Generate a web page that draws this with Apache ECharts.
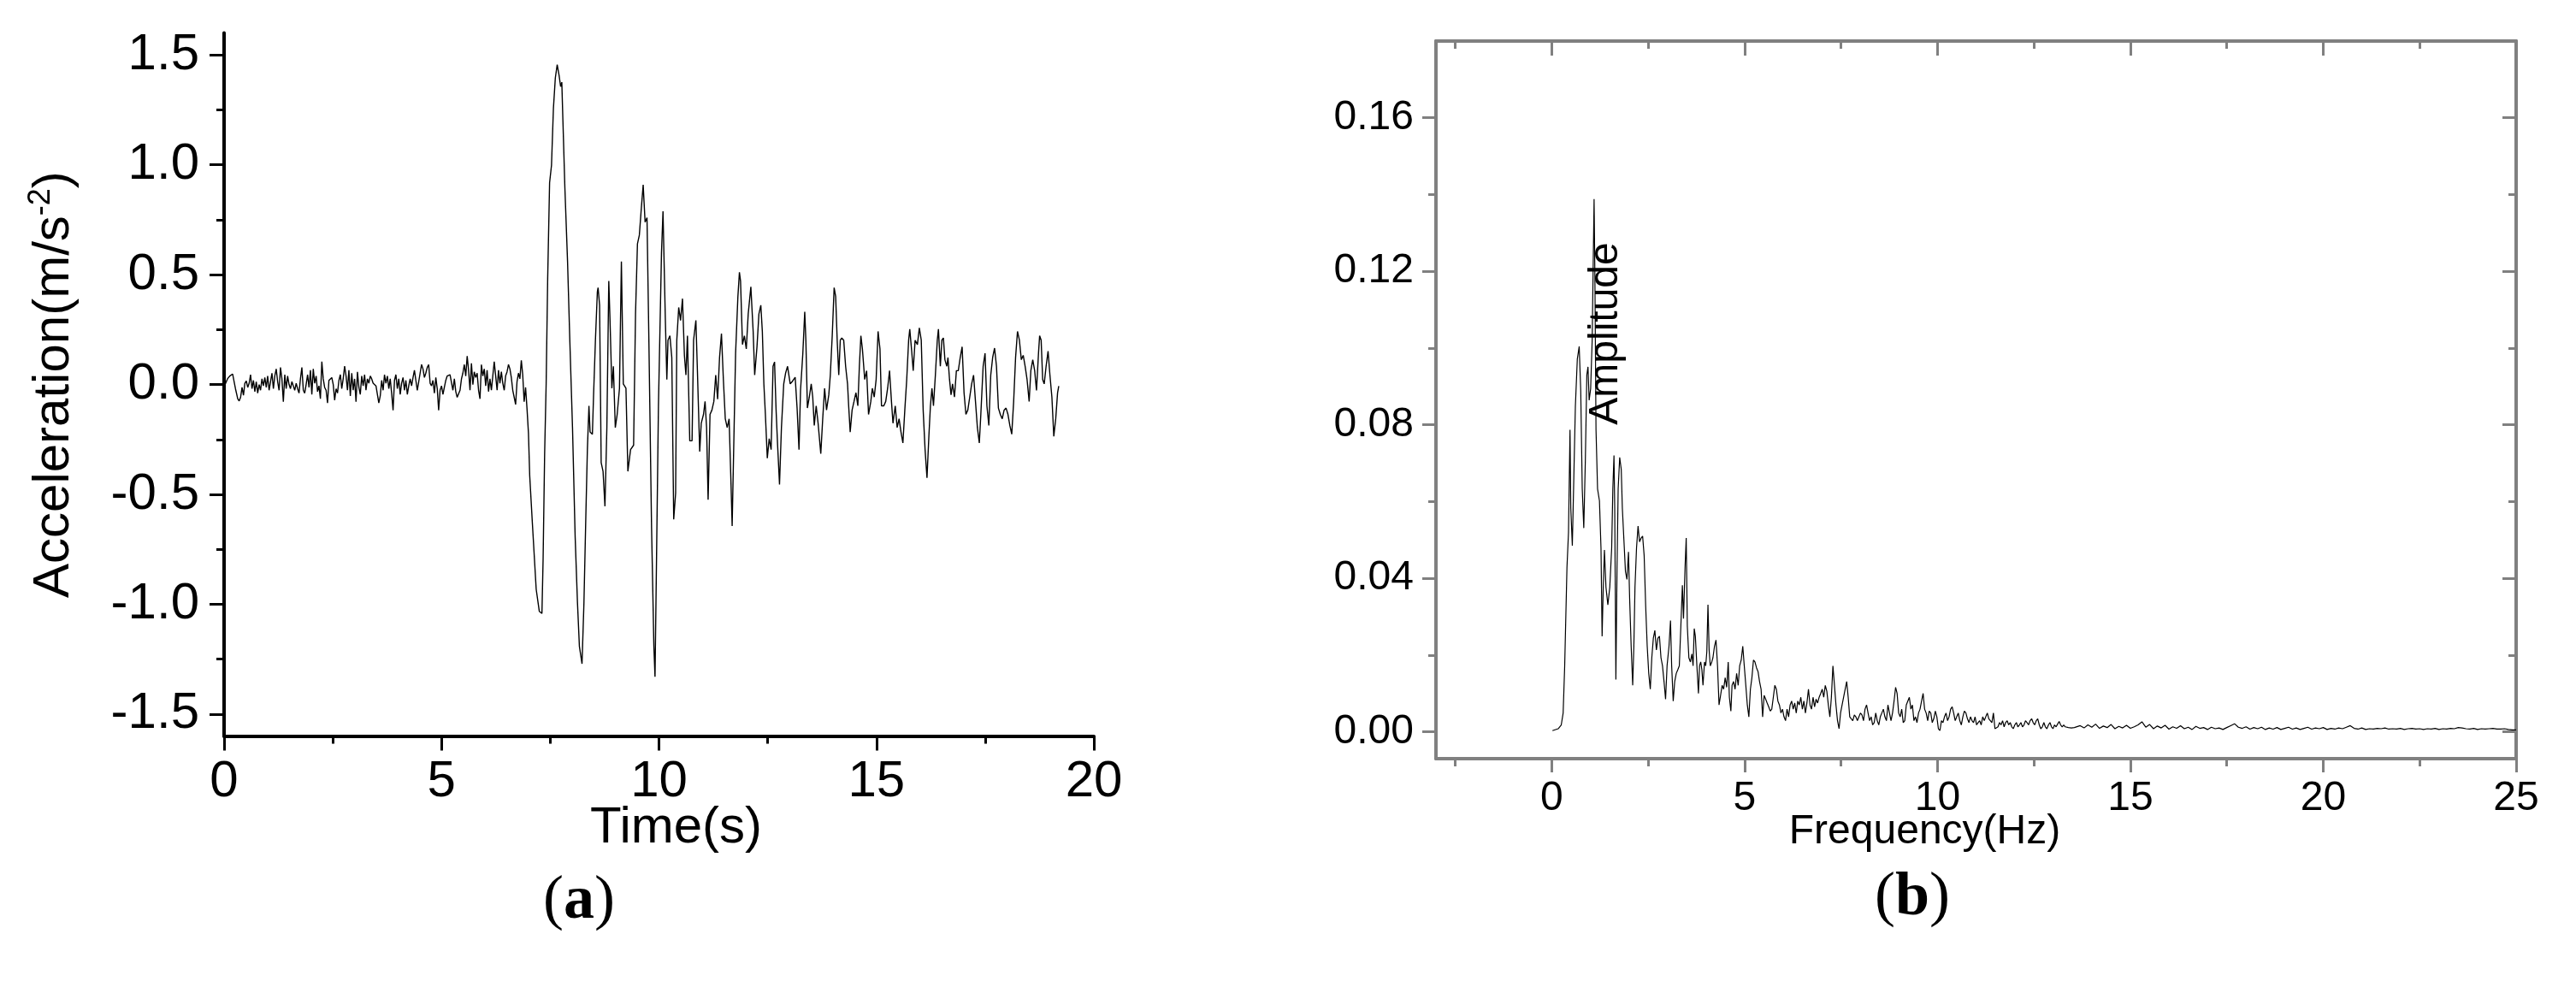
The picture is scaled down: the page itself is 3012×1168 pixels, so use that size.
<!DOCTYPE html>
<html>
<head>
<meta charset="utf-8">
<script src="https://cdn.jsdelivr.net/npm/echarts@6/dist/echarts.min.js"></script>
<style>
html,body{margin:0;padding:0;background:#fff;}
#chart{width:3012px;height:1168px;}
</style>
</head>
<body>
<div id="chart"></div>
<script>
// ---------- Data (a): acceleration time history [time s, acceleration m/s^2] ----------
const accelPreEvent = [
[0.000,-0.010],[0.033,-0.013],[0.079,0.026],[0.131,0.039],[0.197,0.048],[0.229,0.045],[0.262,-0.019],[0.315,-0.065],[0.347,-0.075],[0.380,-0.058],[0.413,-0.013],[0.446,-0.049],
[0.478,0.006],[0.511,0.016],[0.544,-0.013],[0.577,0.006],[0.609,0.045],[0.642,-0.019],[0.675,0.019],[0.708,-0.032],[0.740,0.013],[0.773,-0.039],
[0.806,0.000],[0.839,-0.026],[0.871,0.026],[0.904,-0.006],[0.937,0.032],[0.970,-0.013],[1.002,0.039],[1.035,-0.026],[1.068,0.013],[1.101,0.052],
[1.134,-0.019],[1.166,0.039],[1.199,0.071],[1.232,0.013],[1.265,-0.026],[1.297,0.078],[1.330,0.026],[1.363,-0.078],[1.396,0.045],[1.428,-0.019],
[1.461,0.039],[1.494,0.000],[1.527,-0.019],[1.560,0.013],[1.592,-0.006],[1.625,-0.026],[1.658,0.006],[1.691,-0.019],[1.723,-0.039],[1.756,0.026],
[1.789,0.078],[1.822,-0.026],[1.854,-0.039],[1.887,0.000],[1.920,0.045],[1.953,-0.013],[1.986,0.065],[2.018,-0.045],[2.051,0.071],[2.084,0.006],
[2.117,0.039],[2.149,-0.032],[2.182,-0.006],[2.215,-0.065],[2.248,0.104],[2.280,0.026],[2.313,-0.013],[2.346,-0.026],[2.379,-0.084],[2.411,0.019],
[2.444,0.026],[2.477,0.032],[2.510,0.000],[2.543,-0.071],[2.575,-0.019],[2.608,-0.039],[2.641,0.019],[2.674,0.045],[2.706,-0.019],[2.739,0.026],
[2.772,0.084],[2.805,0.039],[2.837,-0.026],[2.870,0.065],[2.903,-0.052],[2.936,0.052],[2.968,-0.026],[3.001,0.026],[3.034,-0.078],[3.067,0.058],
[3.100,-0.013],[3.132,-0.045],[3.165,0.039],[3.198,-0.006],[3.231,0.045],[3.263,-0.026],[3.296,0.026],[3.329,0.006],[3.362,0.039],[3.394,0.026],
[3.427,0.006],[3.460,0.000],[3.493,-0.006],[3.525,-0.006],[3.558,-0.084],[3.591,-0.052],[3.624,0.019],[3.657,-0.026],[3.689,0.045],[3.722,0.006],
[3.755,0.039],[3.788,-0.019],[3.820,0.026],[3.853,-0.039],[3.886,-0.117],[3.919,0.019],[3.951,0.045],[3.984,-0.019],[4.017,0.026],[4.050,-0.045],
[4.082,0.006],[4.115,0.032],[4.148,-0.026],[4.181,0.019],[4.214,-0.045],[4.246,-0.006],[4.279,0.026],[4.312,-0.006],[4.345,0.032],[4.377,0.065],
[4.410,0.019],[4.443,-0.026],[4.476,0.013],[4.508,0.052],[4.541,0.091],[4.574,0.071],[4.607,0.032],[4.639,0.052],[4.672,0.078],[4.705,0.091],
[4.738,0.006],[4.771,-0.006],[4.803,0.019],[4.836,-0.039],[4.869,0.032],[4.902,-0.019],[4.934,-0.117],[4.967,-0.026],[5.000,-0.006],[5.033,-0.045],
[5.065,-0.013],[5.098,0.019],[5.131,0.039],[5.164,0.042],[5.196,0.045],[5.229,0.039],[5.262,-0.026],[5.295,0.026],[5.328,-0.032],[5.360,-0.058],
[5.393,-0.052],[5.426,-0.026],[5.459,0.026],[5.491,0.052],[5.524,0.091],[5.557,0.039],[5.590,0.130],[5.622,0.065],[5.655,-0.026],[5.688,0.097],
[5.721,0.000],[5.753,0.058],[5.786,0.032],[5.819,0.052],[5.852,-0.026],[5.885,-0.065],[5.917,0.091],[5.950,0.039],[5.983,0.071],[6.016,-0.006],
[6.048,0.065],[6.081,-0.032],[6.114,0.026],[6.147,-0.026],[6.179,0.039],[6.212,0.104],[6.245,0.039],[6.278,-0.026],[6.310,0.065],[6.343,0.006],
[6.376,0.058],[6.409,0.006],[6.442,-0.026],[6.474,0.039],[6.507,0.058],[6.540,0.091],[6.573,0.071],[6.605,0.032],[6.638,-0.026],[6.671,-0.058],
[6.704,-0.091],[6.736,0.013],[6.769,0.052],[6.802,0.026],[6.835,0.110],[6.867,0.045],[6.900,-0.078],[6.933,-0.013],[6.966,-0.110],[6.999,-0.221]
];
const accelStrongMotion = [
[7.028,-0.415],[7.090,-0.634],[7.177,-0.932],[7.248,-1.032],[7.309,-1.042],[7.336,-0.793],[7.371,-0.315],[7.406,0.003],[7.441,0.481],[7.485,0.918],
[7.529,0.998],[7.573,1.257],[7.617,1.396],[7.660,1.456],[7.704,1.406],[7.739,1.356],[7.766,1.376],[7.792,1.197],[7.836,0.899],[7.898,0.560],
[7.950,0.202],[8.012,-0.196],[8.073,-0.694],[8.126,-0.992],[8.170,-1.191],[8.231,-1.271],[8.275,-0.992],[8.319,-0.594],[8.354,-0.296],[8.390,-0.097],
[8.416,-0.216],[8.469,-0.226],[8.495,-0.057],[8.539,0.202],[8.583,0.421],[8.600,0.441],[8.635,0.361],[8.671,-0.355],[8.714,-0.395],[8.758,-0.554],
[8.802,-0.196],[8.846,0.471],[8.873,0.302],[8.917,-0.017],[8.952,0.083],[8.996,-0.196],[9.039,-0.136],[9.092,-0.017],[9.136,0.560],[9.180,0.003],
[9.241,-0.017],[9.285,-0.395],[9.347,-0.296],[9.417,-0.276],[9.461,0.321],[9.505,0.640],[9.549,0.680],[9.593,0.799],[9.637,0.909],[9.681,0.739],
[9.725,0.759],[9.768,0.202],[9.830,-0.654],[9.883,-1.191],[9.909,-1.330],[9.944,-0.793],[9.988,-0.097],[10.058,0.600],[10.093,0.789],[10.146,0.302],
[10.181,0.023],[10.208,0.202],[10.252,0.222],[10.295,0.123],[10.339,-0.614],[10.383,-0.494],[10.410,0.202],[10.454,0.351],[10.497,0.292],[10.541,0.391],
[10.585,0.133],[10.620,0.043],[10.655,0.222],[10.708,-0.256],[10.761,-0.256],[10.796,0.202],[10.849,0.292],[10.884,0.063],[10.937,-0.305],[10.972,-0.176],
[11.024,-0.136],[11.060,-0.077],[11.095,-0.196],[11.130,-0.524],[11.174,-0.136],[11.218,-0.116],[11.262,-0.077],[11.305,0.043],[11.349,-0.067],[11.393,0.123],
[11.437,0.232],[11.481,0.023],[11.525,-0.156],[11.569,-0.196],[11.613,-0.156],[11.657,-0.455],[11.683,-0.644],[11.727,-0.206],[11.762,0.142],[11.815,0.401],
[11.850,0.511],[11.876,0.471],[11.920,0.182],[11.964,0.222],[12.008,0.162],[12.052,0.321],[12.113,0.445],[12.166,0.242],[12.201,0.043],[12.254,0.172],
[12.298,0.321],[12.342,0.361],[12.377,0.242],[12.412,0.003],[12.447,-0.136],[12.491,-0.335],[12.535,-0.246],[12.579,-0.296],[12.623,0.083],[12.658,0.103],
[12.693,-0.116],[12.728,-0.276],[12.772,-0.455],[12.816,-0.196],[12.869,0.003],[12.913,0.053],[12.957,0.083],[13.018,0.003],[13.062,0.013],[13.132,0.033],
[13.176,-0.107],[13.220,-0.296],[13.255,-0.027],[13.308,0.142],[13.352,0.331],[13.378,0.202],[13.413,-0.107],[13.457,-0.057],[13.501,0.003],[13.536,-0.057],
[13.571,-0.186],[13.615,-0.097],[13.659,-0.176],[13.721,-0.315],[13.765,-0.156],[13.809,-0.017],[13.853,-0.116],[13.905,-0.047],[13.940,0.043],[13.984,0.222],
[14.028,0.441],[14.063,0.401],[14.098,0.202],[14.134,0.043],[14.169,0.202],[14.204,0.212],[14.248,0.202],[14.292,0.083],[14.336,0.003],[14.362,-0.097],
[14.397,-0.216],[14.441,-0.116],[14.485,-0.077],[14.529,-0.037],[14.573,-0.097],[14.608,0.083],[14.643,0.222],[14.678,0.162],[14.731,0.023],[14.775,0.063],
[14.819,-0.136],[14.871,-0.077],[14.906,-0.017],[14.950,-0.057],[14.994,0.023],[15.038,0.242],[15.082,0.162],[15.117,-0.097],[15.170,-0.097],[15.214,-0.077],
[15.258,-0.017],[15.302,0.063],[15.346,-0.077],[15.381,-0.176],[15.433,-0.097],[15.477,-0.196],[15.521,-0.156],[15.565,-0.216],[15.609,-0.266],[15.653,-0.116],
[15.697,0.023],[15.741,0.202],[15.767,0.252],[15.811,0.152],[15.846,0.063],[15.890,0.202],[15.943,0.182],[15.987,0.258],[16.031,0.202],[16.075,-0.116],
[16.119,-0.296],[16.163,-0.425],[16.206,-0.236],[16.242,-0.097],[16.277,-0.017],[16.312,-0.097],[16.356,0.043],[16.400,0.202],[16.426,0.252],[16.470,0.083],
[16.505,0.202],[16.540,0.212],[16.575,0.113],[16.619,0.083],[16.645,0.123],[16.681,0.023],[16.716,-0.047],[16.751,0.003],[16.795,-0.057],[16.839,0.063],
[16.883,0.063],[16.927,0.123],[16.971,0.172],[17.015,-0.037],[17.058,-0.136],[17.102,-0.116],[17.146,-0.057],[17.190,0.003],[17.234,0.043],[17.278,-0.077],
[17.322,-0.196],[17.366,-0.266],[17.401,-0.136],[17.454,0.083],[17.498,0.142],[17.541,-0.097],[17.585,-0.186],[17.629,0.043],[17.673,0.123],[17.717,0.166],
[17.761,0.083],[17.805,-0.107],[17.849,-0.136],[17.893,-0.156],[17.937,-0.116],[17.981,-0.107],[18.025,-0.136],[18.068,-0.186],[18.112,-0.226],[18.156,-0.077],
[18.200,0.123],[18.244,0.242],[18.288,0.202],[18.332,0.113],[18.376,0.133],[18.420,0.083],[18.464,0.023],[18.512,-0.077],[18.551,0.063],[18.595,0.113],
[18.639,0.063],[18.681,-0.027],[18.727,0.142],[18.753,0.222],[18.788,0.202],[18.823,0.023],[18.858,0.003],[18.902,0.083],[18.947,0.152],[18.990,0.043],
[19.035,-0.057],[19.079,-0.236],[19.123,-0.156],[19.166,-0.037],[19.193,-0.007]
];

// ---------- Data (b): Fourier amplitude spectrum [frequency Hz, amplitude] ----------
const spectrumLow = [
[0.020,0.0003],[0.168,0.0008],[0.248,0.0018],[0.297,0.0049],[0.337,0.0172],[0.396,0.0428],[0.436,0.0520],[0.475,0.0787],[0.495,0.0582],[0.535,0.0485],
[0.574,0.0664],[0.614,0.0848],[0.664,0.0971],[0.713,0.1004],[0.753,0.0889],[0.792,0.0633],[0.832,0.0531],[0.872,0.0705],[0.911,0.0930],[0.941,0.0951],
[0.971,0.0864],[1.010,0.0894],[1.050,0.1022],[1.080,0.1248],[1.099,0.1388],[1.119,0.1197],[1.149,0.0787],[1.189,0.0633],[1.238,0.0602],[1.278,0.0479],
[1.307,0.0249],[1.337,0.0377],[1.367,0.0474],[1.407,0.0377],[1.456,0.0331],[1.506,0.0377],[1.555,0.0479],[1.585,0.0633],[1.615,0.0720],[1.634,0.0582],
[1.664,0.0136],[1.694,0.0428],[1.723,0.0633],[1.763,0.0715],[1.803,0.0684],[1.832,0.0582],[1.872,0.0500],[1.912,0.0418],[1.951,0.0397],[1.991,0.0469],
[2.021,0.0346],[2.060,0.0223],[2.100,0.0121],[2.130,0.0223],[2.159,0.0377],[2.199,0.0479],[2.239,0.0536],[2.278,0.0495],[2.318,0.0505],[2.357,0.0510],
[2.397,0.0459],[2.437,0.0326],[2.476,0.0223],[2.516,0.0152],[2.556,0.0111],[2.595,0.0193],[2.635,0.0244],[2.674,0.0264],[2.714,0.0213],[2.754,0.0244],
[2.793,0.0249],[2.833,0.0193],[2.872,0.0172],[2.912,0.0131],[2.952,0.0085],[2.991,0.0172],[3.041,0.0223],[3.080,0.0290],[3.110,0.0172],[3.150,0.0080],
[3.189,0.0131],[3.229,0.0152],[3.269,0.0162],[3.308,0.0172],[3.348,0.0275],[3.388,0.0382],[3.417,0.0295],[3.457,0.0428],[3.487,0.0505],[3.516,0.0275],
[3.556,0.0193],[3.596,0.0182],[3.635,0.0203],[3.665,0.0172],[3.695,0.0269],[3.724,0.0249],[3.764,0.0172],[3.804,0.0100],[3.833,0.0172],[3.863,0.0182],
[3.893,0.0162],[3.922,0.0121],[3.962,0.0182],[3.992,0.0172],[4.021,0.0208],[4.051,0.0331],[4.081,0.0213],[4.111,0.0172],[4.150,0.0182],[4.180,0.0193],
[4.220,0.0223],[4.259,0.0239],[4.299,0.0172],[4.338,0.0070],[4.378,0.0095],[4.418,0.0121],[4.457,0.0111],[4.497,0.0141],[4.537,0.0116],[4.576,0.0182],
[4.606,0.0090],[4.645,0.0054],[4.675,0.0121],[4.715,0.0131],[4.754,0.0111],[4.794,0.0152],[4.834,0.0121],[4.873,0.0172],[4.913,0.0187],[4.953,0.0223],
[4.992,0.0172],[5.032,0.0121],[5.071,0.0070],[5.111,0.0039],[5.151,0.0111],[5.190,0.0141],[5.230,0.0187],[5.269,0.0182],[5.309,0.0167],[5.349,0.0157],
[5.388,0.0131],[5.428,0.0111],[5.468,0.0039],[5.507,0.0095],[5.547,0.0085],[5.586,0.0075],[5.626,0.0065],[5.666,0.0054],[5.705,0.0059],[5.745,0.0090],
[5.784,0.0121],[5.824,0.0111],[5.864,0.0080],[5.903,0.0070],[5.943,0.0049],[5.983,0.0059],[6.022,0.0039],[6.062,0.0029],[6.101,0.0059],[6.141,0.0039],
[6.181,0.0070],[6.220,0.0080],[6.260,0.0059],[6.300,0.0075],[6.339,0.0049],[6.379,0.0080],[6.418,0.0070],[6.458,0.0090],[6.498,0.0059],[6.537,0.0080],
[6.577,0.0049],[6.616,0.0075],[6.656,0.0111],[6.696,0.0070],[6.735,0.0059],[6.775,0.0090],[6.815,0.0065],[6.854,0.0085],[6.894,0.0075],[6.933,0.0090],
[6.973,0.0100],[7.013,0.0111],[7.052,0.0090],[7.092,0.0121],[7.132,0.0106],[7.171,0.0070],[7.211,0.0039],[7.250,0.0090],[7.290,0.0172],[7.330,0.0121],
[7.369,0.0070],[7.409,0.0029],[7.449,0.0008],[7.488,0.0049],[7.528,0.0070],[7.567,0.0090],[7.607,0.0111],[7.647,0.0131],[7.686,0.0090],[7.726,0.0039],
[7.765,0.0034],[7.805,0.0029],[7.845,0.0044],[7.884,0.0039],[7.924,0.0029],[7.964,0.0039],[8.003,0.0049]
];
const spectrumMid = [
[8.043,0.0044],[8.083,0.0029],[8.122,0.0059],[8.162,0.0070],[8.201,0.0049],[8.241,0.0029],[8.281,0.0039],[8.320,0.0018],[8.360,0.0024],[8.400,0.0049],
[8.439,0.0029],[8.479,0.0018],[8.518,0.0039],[8.558,0.0049],[8.598,0.0059],[8.637,0.0039],[8.677,0.0029],[8.716,0.0070],[8.756,0.0049],[8.796,0.0029],
[8.835,0.0049],[8.875,0.0080],[8.915,0.0116],[8.954,0.0100],[8.994,0.0049],[9.033,0.0039],[9.073,0.0059],[9.113,0.0024],[9.152,0.0029],[9.192,0.0070],
[9.231,0.0080],[9.271,0.0090],[9.311,0.0059],[9.350,0.0070],[9.390,0.0029],[9.430,0.0039],[9.469,0.0024],[9.509,0.0049],[9.548,0.0059],[9.588,0.0080],
[9.628,0.0100],[9.667,0.0059],[9.707,0.0049],[9.747,0.0029],[9.786,0.0054],[9.826,0.0049],[9.865,0.0024],[9.905,0.0034],[9.945,0.0054],[9.984,0.0039],
[10.024,0.0008],[10.064,0.0003],[10.103,0.0029],[10.143,0.0024],[10.182,0.0039],[10.222,0.0049],[10.262,0.0029],[10.301,0.0039],[10.341,0.0059],[10.381,0.0065],
[10.420,0.0049],[10.460,0.0029],[10.499,0.0039],[10.539,0.0049],[10.579,0.0029],[10.618,0.0018],[10.658,0.0039],[10.697,0.0054],[10.737,0.0049],[10.777,0.0034],
[10.816,0.0024],[10.856,0.0039],[10.896,0.0029],[10.935,0.0024],[10.975,0.0039],[11.014,0.0018],[11.054,0.0024],[11.094,0.0029],[11.133,0.0018],[11.173,0.0039],
[11.213,0.0029],[11.252,0.0039],[11.292,0.0049],[11.331,0.0034],[11.371,0.0029],[11.411,0.0024],[11.450,0.0049],[11.490,0.0008],[11.529,0.0006],[11.569,0.0013],
[11.609,0.0024],[11.648,0.0018],[11.688,0.0029],[11.728,0.0013],[11.767,0.0024],[11.807,0.0029],[11.846,0.0018],[11.886,0.0024],[11.926,0.0013],[11.965,0.0008],
[12.005,0.0018],[12.045,0.0024],[12.084,0.0013],[12.124,0.0018],[12.163,0.0024],[12.203,0.0013],[12.243,0.0018],[12.282,0.0029],[12.322,0.0024],[12.362,0.0018],
[12.401,0.0029],[12.441,0.0034],[12.480,0.0024],[12.520,0.0018],[12.560,0.0029],[12.599,0.0034],[12.639,0.0018],[12.678,0.0008],[12.718,0.0013],[12.758,0.0024],
[12.797,0.0013],[12.837,0.0008],[12.877,0.0018],[12.916,0.0024],[12.956,0.0013],[12.995,0.0008],[13.035,0.0018],[13.075,0.0013],[13.114,0.0020],[13.154,0.0027],
[13.193,0.0018],[13.233,0.0013],[13.273,0.0018],[13.312,0.0013],[13.352,0.0013],[13.392,0.0011],[13.431,0.0013],[13.471,0.0010],[13.510,0.0013],[13.550,0.0011],
[13.590,0.0013]
];
const spectrumHigh = [
[13.7,0.0016],[13.8,0.0010],[13.9,0.0018],[14.0,0.0012],[14.1,0.0020],[14.2,0.0009],[14.3,0.0015],[14.4,0.0011],[14.5,0.0019],[14.6,0.0008],
[14.7,0.0014],[14.8,0.0010],[14.9,0.0017],[15.0,0.0009],[15.1,0.0013],[15.2,0.0018],[15.3,0.0026],[15.4,0.0012],[15.5,0.0019],[15.6,0.0008],
[15.7,0.0015],[15.8,0.0010],[15.9,0.0017],[16.0,0.0007],[16.1,0.0013],[16.2,0.0009],[16.3,0.0016],[16.4,0.0008],[16.5,0.0012],[16.6,0.0006],
[16.7,0.0014],[16.8,0.0009],[16.9,0.0011],[17.0,0.0006],[17.1,0.0012],[17.2,0.0008],[17.3,0.0010],[17.4,0.0006],[17.5,0.0011],[17.6,0.0016],
[17.7,0.0021],[17.8,0.0012],[17.9,0.0009],[18.0,0.0013],[18.1,0.0007],[18.2,0.0011],[18.3,0.0008],[18.4,0.0012],[18.5,0.0006],[18.6,0.0010],
[18.7,0.0007],[18.8,0.0011],[18.9,0.0006],[19.0,0.0009],[19.1,0.0012],[19.2,0.0007],[19.3,0.0010],[19.4,0.0006],[19.5,0.0009],[19.6,0.0012],
[19.7,0.0007],[19.8,0.0010],[19.9,0.0008],[20.0,0.0011],[20.1,0.0006],[20.2,0.0009],[20.3,0.0007],[20.4,0.0010],[20.5,0.0008],[20.6,0.0012],
[20.7,0.0016],[20.8,0.0009],[20.9,0.0007],[21.0,0.0010],[21.1,0.0006],[21.2,0.0008],[21.3,0.0007],[21.4,0.0009],[21.5,0.0008],[21.6,0.0010],
[21.7,0.0007],[21.8,0.0008],[21.9,0.0007],[22.0,0.0009],[22.1,0.0006],[22.2,0.0008],[22.3,0.0009],[22.4,0.0007],[22.5,0.0008],[22.6,0.0006],
[22.7,0.0008],[22.8,0.0007],[22.9,0.0009],[23.0,0.0006],[23.1,0.0008],[23.2,0.0007],[23.3,0.0009],[23.4,0.0008],[23.5,0.0011],[23.6,0.0010],
[23.7,0.0008],[23.8,0.0007],[23.9,0.0009],[24.0,0.0006],[24.1,0.0008],[24.2,0.0007],[24.3,0.0008],[24.4,0.0009],[24.5,0.0007],[24.6,0.0007],
[24.7,0.0008],[24.8,0.0006],[24.9,0.0005],[25.0,0.0005]
];

// ---------- Tick values ----------
const accelMajorTicks = [-1.5, -1.0, -0.5, 0.0, 0.5, 1.0, 1.5];
const accelMinorTicks = [-1.25, -0.75, -0.25, 0.25, 0.75, 1.25];
const freqMajorTicks = [0, 5, 10, 15, 20, 25];
const freqMinorTicks = [-2.5, 2.5, 7.5, 12.5, 17.5, 22.5];
const ampMajorTicks = [0, 0.04, 0.08, 0.12, 0.16];
const ampMinorTicks = [0.02, 0.06, 0.10, 0.14];

const FONT = '"Liberation Sans", Arial, Helvetica, sans-serif';
const SERIF = '"Liberation Serif", "Times New Roman", serif';
const GRAY = '#808080';

const chart = echarts.init(document.getElementById('chart'), null, {renderer: 'canvas'});

function lineAxis(color, width) {
  return {
    axisLine: {show: true, onZero: false, lineStyle: {color: color, width: width}},
    splitLine: {show: false},
    minorSplitLine: {show: false}
  };
}
function hiddenLine() {
  return {
    axisLine: {show: false, onZero: false},
    splitLine: {show: false},
    minorSplitLine: {show: false},
    axisLabel: {show: false}
  };
}

const option = {
  animation: false,
  backgroundColor: '#fff',
  grid: [
    {left: 262, top: 38.6, width: 1017, height: 822, containLabel: false},
    {left: 1679, top: 48, width: 1263, height: 839, containLabel: false}
  ],
  xAxis: [
    // (a) time axis
    Object.assign(lineAxis('#000', 4), {
      gridIndex: 0, type: 'value', min: 0, max: 20, interval: 5,
      axisTick: {show: true, inside: false, length: 17, lineStyle: {width: 3, color: '#000'}},
      minorTick: {show: true, splitNumber: 2, length: 9, lineStyle: {width: 3, color: '#000'}},
      axisLabel: {show: true, fontSize: 60, fontFamily: FONT, color: '#000', margin: 24},
      name: 'Time(s)', nameLocation: 'middle', nameGap: 78, nameMoveOverlap: false,
      nameTextStyle: {fontSize: 60, fontFamily: FONT, color: '#000', padding: [0, 0, 0, 40]}
    }),
    // (b) bottom frequency axis (major)
    Object.assign(lineAxis(GRAY, 4), {
      gridIndex: 1, type: 'value', min: -3, max: 25, position: 'bottom',
      axisTick: {show: true, inside: false, length: 16, customValues: freqMajorTicks, lineStyle: {width: 3, color: GRAY}},
      axisLabel: {show: true, customValues: freqMajorTicks, fontSize: 48, fontFamily: FONT, color: '#000', margin: 23},
      name: 'Frequency(Hz)', nameLocation: 'middle', nameGap: 62, nameMoveOverlap: false,
      nameTextStyle: {fontSize: 48, fontFamily: FONT, color: '#000', padding: [0, 120, 0, 0]}
    }),
    // (b) bottom minor ticks
    Object.assign(hiddenLine(), {
      gridIndex: 1, type: 'value', min: -3, max: 25, position: 'bottom',
      axisTick: {show: true, inside: false, length: 9, customValues: freqMinorTicks, lineStyle: {width: 3, color: GRAY}}
    }),
    // (b) top frame (major, inward)
    Object.assign(lineAxis(GRAY, 4), {
      gridIndex: 1, type: 'value', min: -3, max: 25, position: 'top',
      axisTick: {show: true, inside: true, length: 17, customValues: freqMajorTicks, lineStyle: {width: 3, color: GRAY}},
      axisLabel: {show: false}
    }),
    // (b) top minor
    Object.assign(hiddenLine(), {
      gridIndex: 1, type: 'value', min: -3, max: 25, position: 'top',
      axisTick: {show: true, inside: true, length: 9, customValues: freqMinorTicks, lineStyle: {width: 3, color: GRAY}}
    })
  ],
  yAxis: [
    // (a) acceleration axis (major)
    Object.assign(lineAxis('#000', 4), {
      gridIndex: 0, type: 'value', min: -1.6, max: 1.6, position: 'left',
      axisTick: {show: true, inside: false, length: 17, customValues: accelMajorTicks, lineStyle: {width: 3, color: '#000'}},
      axisLabel: {show: true, customValues: accelMajorTicks, fontSize: 60, fontFamily: FONT, color: '#000', margin: 29,
        formatter: function (v) { return Number(v).toFixed(1); }},
      name: '{t|Acceleration(m/s}{s|-2}{t|)}', nameLocation: 'middle', nameGap: 166, nameMoveOverlap: false,
      nameTextStyle: {color: '#000', rich: {
        t: {fontSize: 60, fontFamily: FONT, color: '#000', lineHeight: 66},
        s: {fontSize: 36, fontFamily: FONT, color: '#000', verticalAlign: 'top', lineHeight: 36}
      }}
    }),
    // (a) minor ticks
    Object.assign(hiddenLine(), {
      gridIndex: 0, type: 'value', min: -1.6, max: 1.6, position: 'left',
      axisTick: {show: true, inside: false, length: 9, customValues: accelMinorTicks, lineStyle: {width: 3, color: '#000'}}
    }),
    // (b) amplitude axis left (major)
    Object.assign(lineAxis(GRAY, 4), {
      gridIndex: 1, type: 'value', min: -0.007, max: 0.18, position: 'left',
      axisTick: {show: true, inside: false, length: 16, customValues: ampMajorTicks, lineStyle: {width: 3, color: GRAY}},
      axisLabel: {show: true, customValues: ampMajorTicks, fontSize: 48, fontFamily: FONT, color: '#000', margin: 26,
        formatter: function (v) { return Number(v).toFixed(2); }}
    }),
    // (b) left minor
    Object.assign(hiddenLine(), {
      gridIndex: 1, type: 'value', min: -0.007, max: 0.18, position: 'left',
      axisTick: {show: true, inside: false, length: 9, customValues: ampMinorTicks, lineStyle: {width: 3, color: GRAY}}
    }),
    // (b) right frame (major, inward)
    Object.assign(lineAxis(GRAY, 4), {
      gridIndex: 1, type: 'value', min: -0.007, max: 0.18, position: 'right',
      axisTick: {show: true, inside: true, length: 16, customValues: ampMajorTicks, lineStyle: {width: 3, color: GRAY}},
      axisLabel: {show: false}
    }),
    // (b) right minor
    Object.assign(hiddenLine(), {
      gridIndex: 1, type: 'value', min: -0.007, max: 0.18, position: 'right',
      axisTick: {show: true, inside: true, length: 9, customValues: ampMinorTicks, lineStyle: {width: 3, color: GRAY}}
    })
  ],
  series: [
    {
      name: 'Acceleration', type: 'line', xAxisIndex: 0, yAxisIndex: 0,
      data: accelPreEvent.concat(accelStrongMotion),
      showSymbol: false, symbol: 'none', smooth: false, clip: true,
      lineStyle: {color: '#000', width: 1.4}
    },
    {
      name: 'Amplitude', type: 'line', xAxisIndex: 1, yAxisIndex: 2,
      data: spectrumLow.concat(spectrumMid, spectrumHigh),
      showSymbol: false, symbol: 'none', smooth: false, clip: true,
      lineStyle: {color: '#000', width: 1.2}
    }
  ],
  graphic: [
    {
      type: 'text', x: 1878, y: 390, rotation: Math.PI / 2,
      style: {text: 'Amplitude', font: '48px ' + FONT, fill: '#000', align: 'center', verticalAlign: 'middle'}
    },
    {
      type: 'text', x: 677, y: 1054,
      style: {text: '{p|(}{b|a}{p|)}', align: 'center', verticalAlign: 'middle',
        rich: {p: {font: '72px ' + SERIF, fill: '#000'}, b: {font: 'bold 72px ' + SERIF, fill: '#000'}}}
    },
    {
      type: 'text', x: 2236, y: 1050,
      style: {text: '{p|(}{b|b}{p|)}', align: 'center', verticalAlign: 'middle',
        rich: {p: {font: '72px ' + SERIF, fill: '#000'}, b: {font: 'bold 72px ' + SERIF, fill: '#000'}}}
    }
  ]
};
chart.setOption(option);
</script>
</body>
</html>
